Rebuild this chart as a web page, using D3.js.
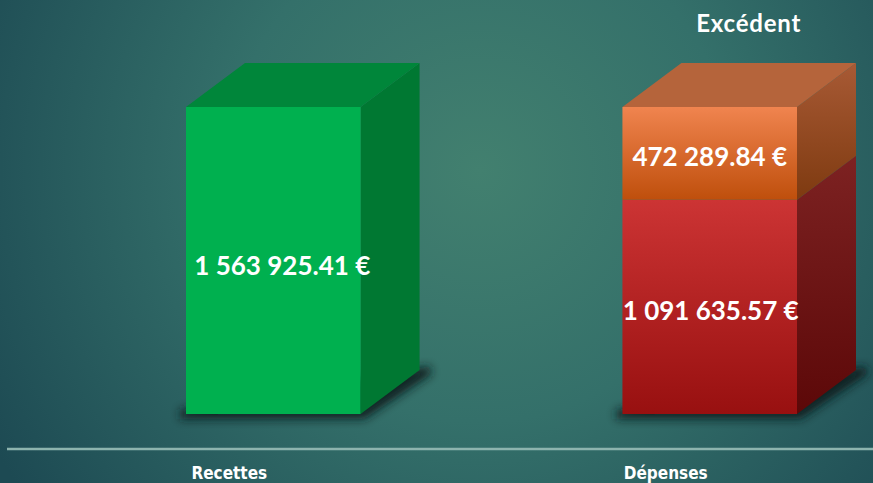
<!DOCTYPE html>
<html>
<head>
<meta charset="utf-8">
<script src="https://cdn.jsdelivr.net/npm/d3@7"></script>
<style>
  body { margin: 0; background: #24525a; }
  svg { display: block; }
  text { font-family: Lato, "Open Sans", sans-serif; font-weight: 700; fill: #fff; }
</style>
</head>
<body>
<svg id="chart" width="873" height="483"></svg>
<script>
let categories = ["Recettes", "Dépenses"]
let recettes = [1563925.41]
let depenses = [1091635.57]
let excedent = [472289.84]

let width = 873
let height = 483
let depthX = 59
let depthY = 44

let svg = d3.select("#chart")
let defs = svg.append("defs")

// background
let bg = defs.append("radialGradient").attr("id", "bg")
  .attr("gradientUnits", "userSpaceOnUse")
  .attr("cx", 480).attr("cy", 170).attr("r", 560)
bg.append("stop").attr("offset", "0%").attr("stop-color", "#42806f")
bg.append("stop").attr("offset", "45%").attr("stop-color", "#34706a")
bg.append("stop").attr("offset", "100%").attr("stop-color", "#1d4a53")
svg.append("rect").attr("width", width).attr("height", height).attr("fill", "url(#bg)")

let grad = (id, c1, c2) => {
  let g = defs.append("linearGradient").attr("id", id)
    .attr("x1", 0).attr("y1", 0).attr("x2", 0).attr("y2", 1)
  g.append("stop").attr("offset", "0%").attr("stop-color", c1)
  g.append("stop").attr("offset", "100%").attr("stop-color", c2)
}
grad("orangeFront", "#f0844f", "#bf4f0c")
grad("orangeSide", "#a85a35", "#7e3a10")
grad("redFront", "#cc3434", "#981010")
grad("redSide", "#7d2222", "#5c0808")

defs.append("filter").attr("id", "blur")
  .attr("x", "-50%").attr("y", "-50%").attr("width", "200%").attr("height", "200%")
  .append("feGaussianBlur").attr("stdDeviation", 5)

let x = d3.scaleBand().domain(categories).range([186, 797]).paddingInner(0.6).paddingOuter(0)
let y = d3.scaleLinear().domain([0, recettes[0]]).range([414, 107])

let segments = [
  { cat: "Recettes", y0: 0, y1: recettes[0], front: "#00b04f", side: "#007832", top: "#00863a", label: recettes[0], dx: 9, dy: 14 },
  { cat: "Dépenses", y0: 0, y1: depenses[0], front: "url(#redFront)", side: "url(#redSide)", top: null, label: depenses[0], dx: 1, dy: 13 },
  { cat: "Dépenses", y0: depenses[0], y1: depenses[0] + excedent[0], front: "url(#orangeFront)", side: "url(#orangeSide)", top: "#b5643b", label: excedent[0], dx: 0, dy: 13 }
]

let fmt = v => {
  let parts = v.toFixed(2).split(".")
  return parts[0].replace(/\B(?=(\d{3})+(?!\d))/g, " ") + "." + parts[1] + " €"
}

// shadows
svg.selectAll(".shadow").data(categories).enter().append("path")
  .attr("class", "shadow")
  .attr("d", c => {
    let x0 = x(c), x1 = x(c) + x.bandwidth()
    return `M${x0 - 6},${y(0) - 4} L${x1 + depthX + 10},${y(0) - depthY - 4} L${x1 + depthX + 12},${y(0) - depthY + 4} L${x1 + 4},${y(0) + 5} L${x0 - 6},${y(0) + 5} Z`
  })
  .attr("fill", "#081a1e").attr("opacity", 0.9).attr("filter", "url(#blur)")

let bars = svg.selectAll(".seg").data(segments).enter().append("g").attr("class", "seg")

bars.append("path")
  .attr("d", d => {
    let x1 = x(d.cat) + x.bandwidth()
    return `M${x1},${y(d.y1)} L${x1 + depthX},${y(d.y1) - depthY} L${x1 + depthX},${y(d.y0) - depthY} L${x1},${y(d.y0)} Z`
  })
  .attr("fill", d => d.side)

bars.filter(d => d.top).append("path")
  .attr("d", d => {
    let x0 = x(d.cat), x1 = x(d.cat) + x.bandwidth()
    return `M${x0},${y(d.y1)} L${x0 + depthX},${y(d.y1) - depthY} L${x1 + depthX},${y(d.y1) - depthY} L${x1},${y(d.y1)} Z`
  })
  .attr("fill", d => d.top)

bars.append("rect")
  .attr("x", d => x(d.cat))
  .attr("y", d => y(d.y1))
  .attr("width", x.bandwidth())
  .attr("height", d => y(d.y0) - y(d.y1))
  .attr("fill", d => d.front)

bars.append("text")
  .attr("x", d => x(d.cat) + x.bandwidth() / 2 + d.dx)
  .attr("y", d => (y(d.y0) + y(d.y1)) / 2 + d.dy)
  .attr("text-anchor", "middle")
  .attr("font-size", 26)
  .text(d => fmt(d.label))

svg.append("text")
  .attr("x", x("Dépenses") + x.bandwidth() / 2 + 39)
  .attr("y", 32)
  .attr("text-anchor", "middle")
  .attr("font-size", 24)
  .attr("letter-spacing", 0.8)
  .text("Excédent")

// baseline
svg.append("line")
  .attr("x1", 7).attr("x2", width).attr("y1", 449).attr("y2", 449)
  .attr("stroke", "#8db4ae").attr("stroke-width", 2.5)

svg.selectAll(".cat").data(categories).enter().append("text")
  .attr("class", "cat")
  .attr("x", c => x(c) + x.bandwidth() / 2 - 44)
  .attr("y", 479)
  .attr("text-anchor", "middle")
  .attr("font-size", 17)
  .style("font-family", "'DejaVu Sans Condensed', 'DejaVu Sans', sans-serif")
  .style("font-stretch", "condensed")
  .text(c => c)
</script>
</body>
</html>
